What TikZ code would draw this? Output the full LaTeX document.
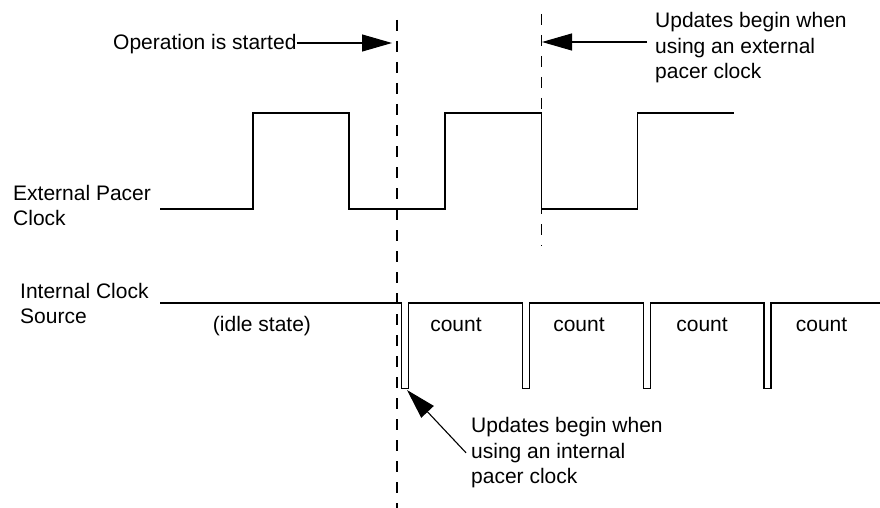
\documentclass[tikz,border=0pt]{standalone}
\usepackage{fontspec}
\setmainfont{Liberation Sans}
\usetikzlibrary{arrows.meta}
\begin{document}
\begin{tikzpicture}[x=1pt,y=-1pt,
  lbl/.style={inner sep=0pt,anchor=base west,align=left,font=\fontsize{21}{25.5}\selectfont},
  cnt/.style={inner sep=0pt,anchor=base,font=\fontsize{21}{25.5}\selectfont},
  sig/.style={line width=1.1pt,line join=miter},
  guide/.style={line width=1.1pt,dash pattern=on 11pt off 10pt},
  arr/.style={line width=1.1pt,-{Triangle[length=30pt,width=17pt]}}]
\useasboundingbox (0,0) rectangle (880,508);
% guide lines
\coordinate (d1t) at (397,20);
\coordinate (d1b) at (397,508);
\coordinate (d2t) at (541.5,14);
\coordinate (d2b) at (541.5,246);
\draw[guide] (d1t) -- (d1b);
\draw[guide] (d2t) -- (d2b);
% external pacer clock
\draw[sig] (160,209) -- (253,209) -- (253,113) -- (349,113) -- (349,209) -- (445,209)
  -- (445,113) -- (541.5,113) -- (541.5,209) -- (637.5,209) -- (637.5,113) -- (734,113);
% internal clock
\draw[sig] (160,303) -- (401.5,303) -- (401.5,388.5) -- (408.5,388.5) -- (408.5,303)
  -- (522.5,303) -- (522.5,388.5) -- (529.5,388.5) -- (529.5,303)
  -- (643.5,303) -- (643.5,388.5) -- (650.5,388.5) -- (650.5,303)
  -- (764,303) -- (764,388.5) -- (771,388.5) -- (771,303) -- (880,303);
% labels (base anchor = baseline of last line)
\node[lbl] (ext) at (13,225.5) {External Pacer\\Clock};
\node[lbl] (intl) at (20,323.5) {Internal Clock\\Source};
\node[cnt] (idle) at (262,331) {(idle state)};
\node[cnt] (c1) at (456,331) {count};
\node[cnt] (c2) at (579,331) {count};
\node[cnt] (c3) at (702,331) {count};
\node[cnt] (c4) at (821.5,331) {count};
% annotations
\node[lbl] (opst) at (113,50) {Operation is started};
\coordinate (a1) at (392,43);
\draw[arr] (opst.east |- a1) -- (a1);
\node[lbl] (extu) at (655,79) {Updates begin when\\using an external\\pacer clock};
\coordinate (e2) at (647,42);
\coordinate (a2) at (542,42);
\draw[arr] (e2) -- (a2);
\node[lbl] (intu) at (471,483.7) {Updates begin when\\using an internal\\pacer clock};
\coordinate (a3) at (407,390);
\draw[arr] ([xshift=-5pt]intu.west) -- (a3);
\end{tikzpicture}
\end{document}
